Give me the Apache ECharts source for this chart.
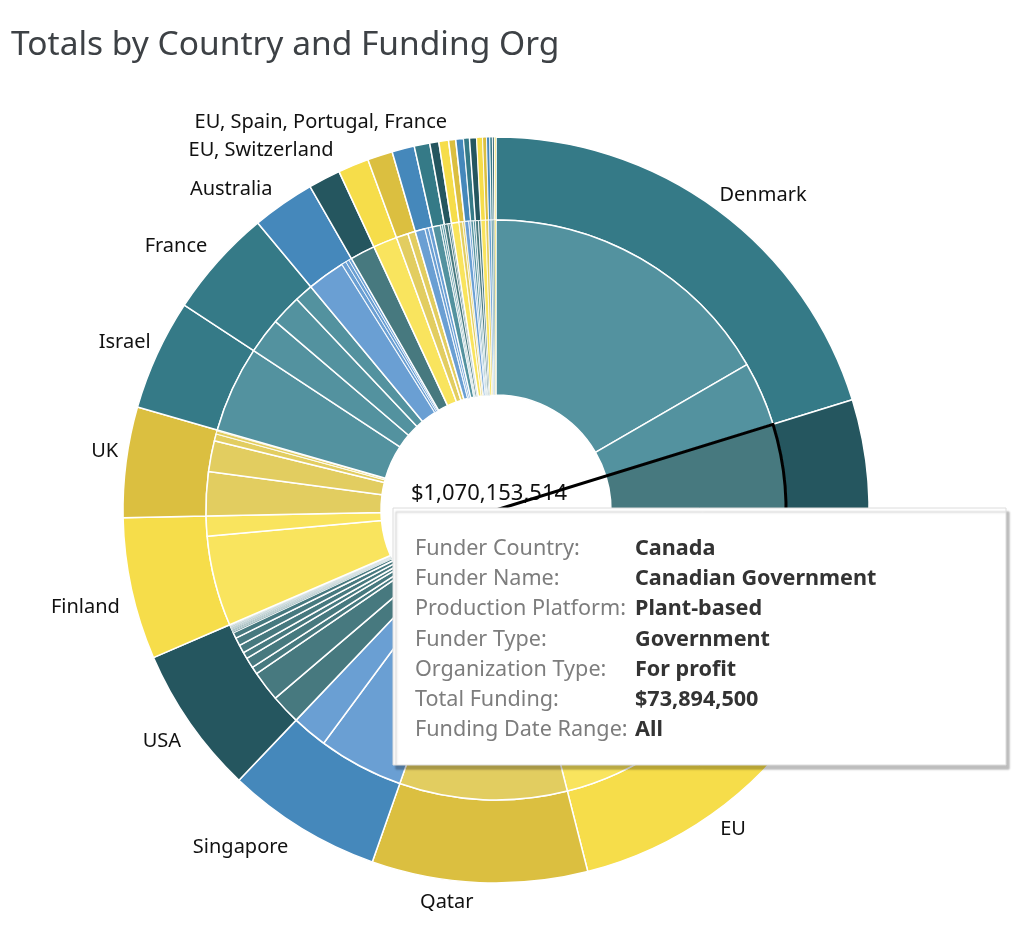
<!DOCTYPE html>
<html>
<head>
<meta charset="utf-8">
<title>Totals by Country and Funding Org</title>
<script src="https://cdn.jsdelivr.net/npm/echarts@6/dist/echarts.min.js"></script>
<style>
html,body{margin:0;padding:0;background:#fff;}
#main{width:1024px;height:937px;}
</style>
</head>
<body>
<div id="main"></div>
<script>
var FONT='"Noto Sans",sans-serif';

//funder countries, clockwise from the top. empty name = no label in the picture
var countries=['Denmark','Canada','EU','Qatar','Singapore','USA','Finland','UK','Israel','France','Australia',
    'EU, Switzerland','','','','','','','EU, Spain, Portugal, France','','','','','','','','',''];

var countryHues=['teal','dark','yellow','gold','blue','dark','yellow','gold','teal','teal','blue',
    'dark','yellow','gold','blue','teal','dark','yellow','gold','blue','teal','dark','yellow',
    'gold','blue','teal','dark','yellow'];

//funding per org inside each country, $ millions
var orgFunding=[
    [178.0,38.4],
    [73.8945,77.4],
    [124.9],
    [99.9],
    [50.8,21.1],
    [17.8,18.1,4.5,6.2,3.9,4.8,4.8,3.5,0.7,0.6,0.6,0.5,0.5,0.4,0.4,0.4,0.3,0.3,0.2,0.2],
    [53.8,11.9],
    [26.2,18.4,4.2,1.8,0.6],
    [51.4],
    [21.4,18.1,11.0],
    [22.6,2.7,2.1,1.7],
    [14.9],
    [14.3],
    [7.1,4.5],
    [5.9,2.1,2.4],
    [4.8,1.2,1.2],
    [2.1,1.2,0.9],
    [4.5],
    [2.1,1.2],
    [2.4,1.2],
    [1.5,1.2],
    [1.8,1.5],
    [2.7],
    [1.8],
    [1.5],
    [1.2],
    [0.9],
    [0.75]
];

var centerTotal='$1,070,153,514';
var selectedOrg=73.8945;

var tipLabels=['Funder Country:','Funder Name:','Production Platform:','Funder Type:','Organization Type:','Total Funding:','Funding Date Range:'];
var tipValues=['Canada','Canadian Government','Plant-based','Government','For profit','$73,894,500','All'];

var outerColor={teal:'#357a87',dark:'#25565f',yellow:'#f6dd4a',gold:'#dbbf40',blue:'#4588bb'};
var innerColor={teal:'#53929f',dark:'#47797f',yellow:'#f9e45e',gold:'#e2cd60',blue:'#6a9fd3'};

//label offsets, the original does not place them strictly on the slice middle
var labelNudge={
    'Denmark':[-13,-1],'EU':[-6,1],'Qatar':[0,3],'Singapore':[1,5],'USA':[10,8],'Finland':[10,14],
    'UK':[14,-8],'Israel':[14,-5],'France':[7,-4],'Australia':[4,0],
    'EU, Switzerland':[22,-13],'EU, Spain, Portugal, France':[2,0]
};

function sum(arr){
    var s=0;
    for(var i=0;i<arr.length;i++){s+=arr[i];}
    return s;
}

//white edges get thinner on the slivers or they eat the colour
function edge(v){
    if(v<1){return 0.5;}
    if(v<3){return 0.8;}
    return 1.5;
}

var outerData=[],innerData=[],grandTotal=0;
for(var i=0;i<countries.length;i++){
    var t=sum(orgFunding[i]);
    grandTotal+=t;
    outerData.push({
        name:countries[i],
        value:t,
        itemStyle:{color:outerColor[countryHues[i]],borderColor:'#fff',borderWidth:Math.max(edge(t),0.9)},
        label:{show:countries[i]!==''}
    });
    for(var j=0;j<orgFunding[i].length;j++){
        innerData.push({
            value:orgFunding[i][j],
            itemStyle:{color:innerColor[countryHues[i]],borderColor:'#fff',borderWidth:edge(orgFunding[i][j])}
        });
    }
}

var CX=496,CY=510;
//outline of the hovered org starts where Denmark ends
var hoverStart=90-sum(orgFunding[0])/grandTotal*360;

var tipX=393,tipY=508,tipW=613,tipH=257;
var tipEls=[{
    type:'rect',
    z:100,
    shape:{x:tipX,y:tipY,width:tipW,height:tipH},
    style:{fill:'#fff',stroke:'#dcdcdc',lineWidth:1,shadowBlur:2,shadowOffsetX:3,shadowOffsetY:4,shadowColor:'rgba(0,0,0,0.25)'}
}];
for(var k=0;k<tipLabels.length;k++){
    var rowY=548.5+k*30.3;
    tipEls.push({type:'text',z:101,style:{x:415,y:rowY,text:tipLabels[k],fill:'#7d7d7d',font:'21.6px '+FONT,verticalAlign:'middle'}});
    tipEls.push({type:'text',z:101,style:{x:635,y:rowY,text:tipValues[k],fill:'#333',font:'bold 21.6px '+FONT,verticalAlign:'middle'}});
}

var option={
    animation:false,
    backgroundColor:'#fff',
    title:{
        text:'Totals by Country and Funding Org',
        left:6,
        top:23,
        textStyle:{fontFamily:FONT,fontSize:33.5,fontWeight:'normal',color:'#3d4145'}
    },
    graphic:[
        {type:'text',z:1,style:{x:489,y:494,text:centerTotal,fill:'#111',font:'22px '+FONT,align:'center',verticalAlign:'middle'}},
        {type:'group',z:100,children:tipEls}
    ],
    series:[
        {
            type:'pie',
            silent:true,
            center:[CX,CY],
            radius:[290,373],
            avoidLabelOverlap:false,
            emphasis:{disabled:true},
            label:{position:'outside',fontFamily:FONT,fontSize:20,color:'#111',formatter:'{b}'},
            labelLine:{show:false,length:17,length2:0},
            labelLayout:function(p){
                var n=labelNudge[p.text];
                return n?{dx:n[0],dy:n[1]}:{};
            },
            data:outerData
        },
        {
            type:'pie',
            silent:true,
            center:[CX,CY],
            radius:[115,290],
            emphasis:{disabled:true},
            label:{show:false},
            labelLine:{show:false},
            data:innerData
        },
        {
            //black outline of the hovered org, runs right through the hole
            type:'pie',
            silent:true,
            center:[CX,CY],
            radius:[0,290],
            startAngle:hoverStart,
            z:5,
            emphasis:{disabled:true},
            label:{show:false},
            labelLine:{show:false},
            data:[
                {value:selectedOrg,itemStyle:{color:'rgba(0,0,0,0)',borderColor:'#000',borderWidth:3}},
                {value:grandTotal-selectedOrg,itemStyle:{color:'rgba(0,0,0,0)',borderWidth:0}}
            ]
        }
    ]
};

var myChart=echarts.init(document.getElementById('main'));
myChart.setOption(option);
</script>
</body>
</html>
